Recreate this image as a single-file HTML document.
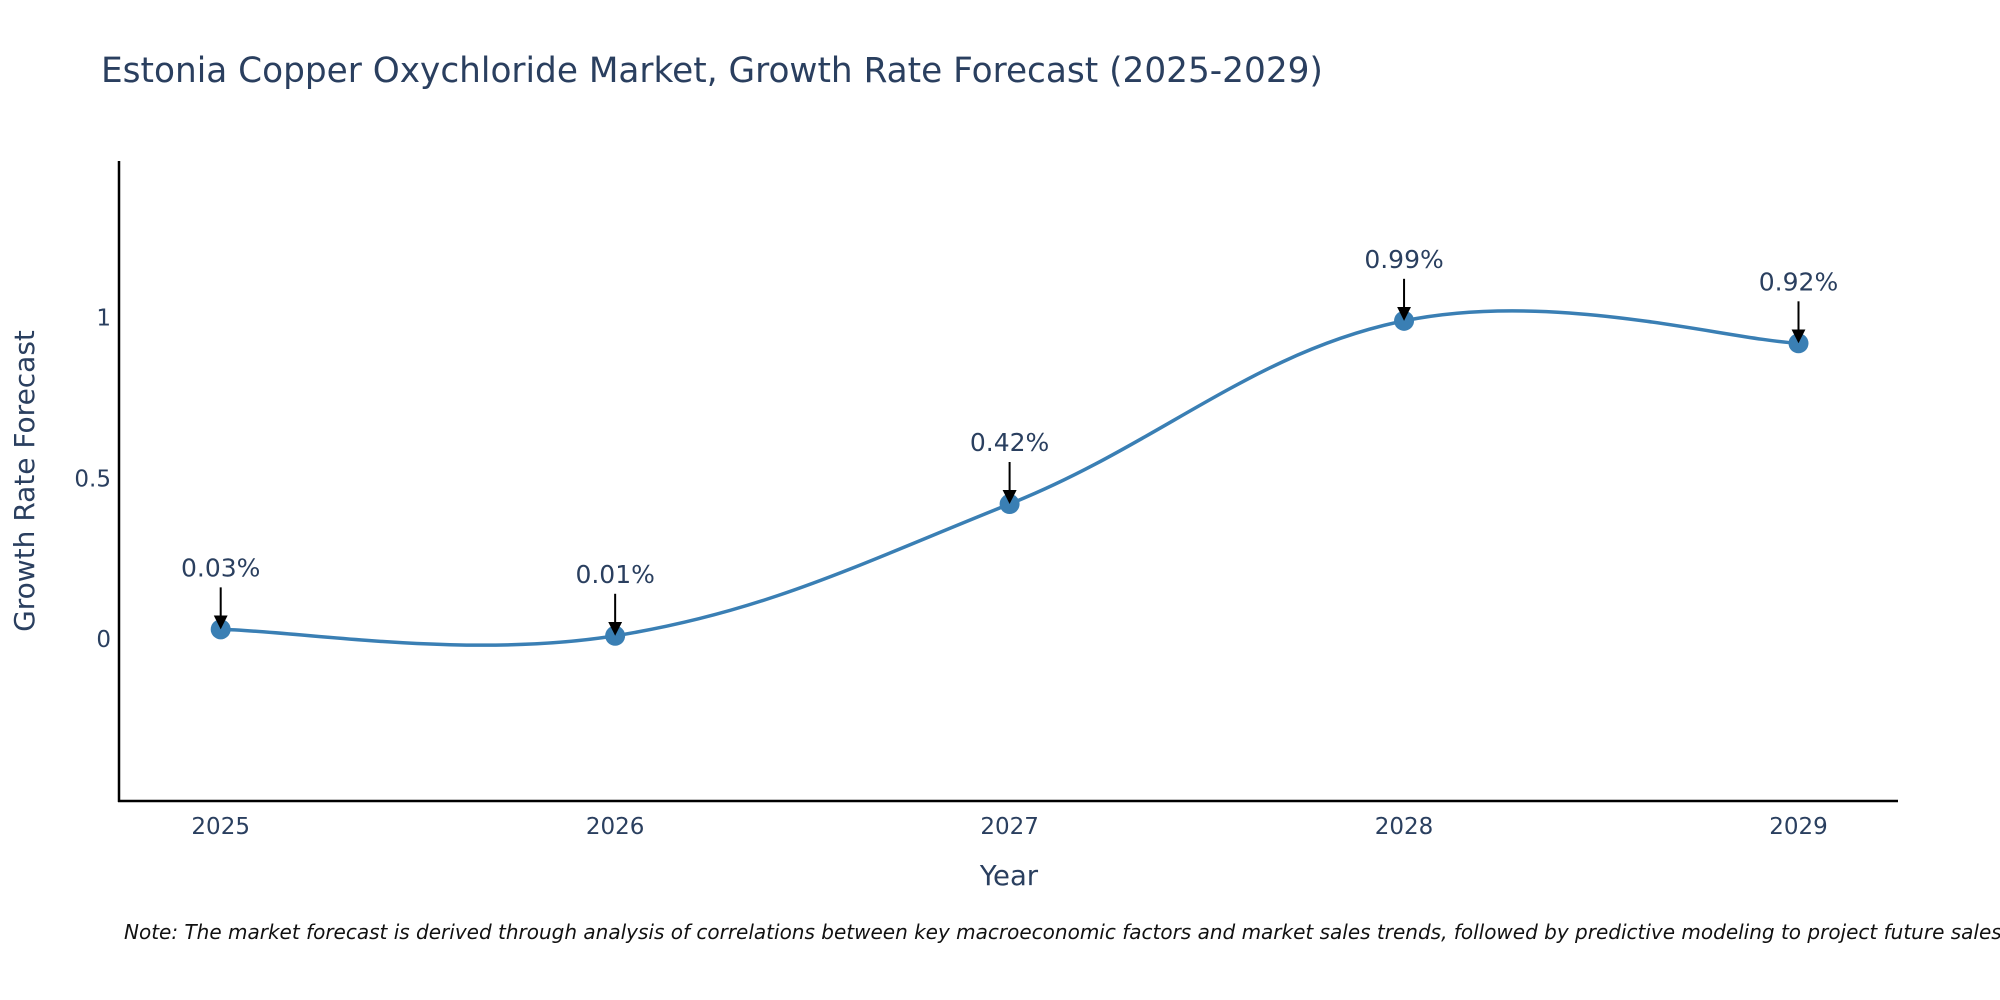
<!DOCTYPE html>
<html><head><meta charset="utf-8"><style>
html,body{margin:0;padding:0;background:#fff;width:2000px;height:1000px;overflow:hidden}
svg text{font-family:"DejaVu Sans","Liberation Sans",sans-serif;fill:#2a3f5f}
</style></head><body>
<svg id="chart" width="2000" height="1000" viewBox="0 0 2000 1000">
<defs><marker id="ah" markerWidth="14" markerHeight="14" refX="10" refY="7" orient="auto" markerUnits="userSpaceOnUse"><path d="M0,0 L14,7 L0,14 z" fill="#000"/></marker></defs>
<text x="101" y="82" font-size="34.3">Estonia Copper Oxychloride Market, Growth Rate Forecast (2025-2029)</text>
<g id="yticks"></g><g id="xticks"></g>
<line x1="119" y1="161" x2="119" y2="802" stroke="#000" stroke-width="2.5"/>
<line x1="118" y1="801" x2="1898" y2="801" stroke="#000" stroke-width="2.5"/>
<text transform="translate(34,481) rotate(-90)" text-anchor="middle" font-size="28">Growth Rate Forecast</text>
<text x="1009" y="885" text-anchor="middle" font-size="27.5">Year</text>
<g id="series"></g>
<text x="124" y="939" font-size="20" font-style="italic" style="fill:#111">Note: The market forecast is derived through analysis of correlations between key macroeconomic factors and market sales trends, followed by predictive modeling to project future sales.</text>
</svg>
<script>
const years=[2025,2026,2027,2028,2029];
const values=[0.03,0.01,0.42,0.99,0.92];
const labels=["0.03%","0.01%","0.42%","0.99%","0.92%"];
const yTicks=[0,0.5,1];
const NS="http://www.w3.org/2000/svg";
const X=v=>220.7+(v-2025)*394.45;
const Y=v=>639-(v)*321.4;
function mk(t,a,p){const e=document.createElementNS(NS,t);for(const k in a)e.setAttribute(k,a[k]);p.appendChild(e);return e;}
const yt=document.getElementById('yticks');
yTicks.forEach(v=>{const t=mk('text',{x:111,y:Y(v)+8,'text-anchor':'end','font-size':23},yt);t.textContent=v;

});
const xt=document.getElementById('xticks');
years.forEach(v=>{const t=mk('text',{x:X(v),y:834,'text-anchor':'middle','font-size':23},xt);t.textContent=v;

});
const s=document.getElementById('series');
const P=years.map((y,i)=>[X(y),Y(values[i])]);
let d=`M${P[0][0]},${P[0][1]}`;
for(let i=0;i<P.length-1;i++){const p0=P[Math.max(i-1,0)],p1=P[i],p2=P[i+1],p3=P[Math.min(i+2,P.length-1)];const k=0.19;
d+=` C${p1[0]+(p2[0]-p0[0])*k},${p1[1]+(p2[1]-p0[1])*k} ${p2[0]-(p3[0]-p1[0])*k},${p2[1]-(p3[1]-p1[1])*k} ${p2[0]},${p2[1]}`;}
const line=mk('path',{d:d,fill:'none',stroke:'#3a7fb4','stroke-width':3.5},s);


P.forEach((p,i)=>{
const c=mk('circle',{cx:p[0],cy:p[1],r:10,fill:'#3a7fb4'},s);


const a=mk('line',{x1:p[0],y1:p[1]-42,x2:p[0],y2:p[1]-4,stroke:'#000','stroke-width':2,'marker-end':'url(#ah)'},s);


const t=mk('text',{x:p[0],y:p[1]-53,'text-anchor':'middle','font-size':25},s);t.textContent=labels[i];


});
</script>
</body></html>
